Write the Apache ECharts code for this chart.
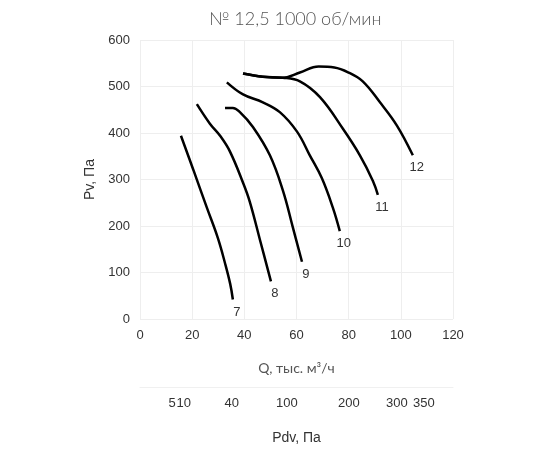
<!DOCTYPE html>
<html><head><meta charset="utf-8">
<script src="https://cdn.jsdelivr.net/npm/echarts@6/dist/echarts.min.js"></script>
<style>html,body{margin:0;padding:0;background:#fff}#c{width:550px;height:450px}</style>
</head><body><div id="c"></div>
<script>
const titleText = '№ 12,5 1000 об/мин';
const xName = 'Q, тыс. м³/ч';
const yName = 'Pv, Па';
const pdvName = 'Pdv, Па';
const curveNames = ['7', '8', '9', '10', '11', '12'];
const curve7 = [[15.7,394],[20.5,320],[25.6,240],[29.8,175],[32.6,120],[34.6,75],[35.6,42]];
const curve8 = [[21.8,462],[26.8,420],[30.7,394],[34.5,360],[39.5,293],[42.1,252],[46,170],[50.2,81]];
const curve9 = [[32.6,454],[35.6,454],[38.3,445],[43.3,413],[49.8,352],[54.8,276],[58.6,197],[62.1,123]];
const curve10 = [[33.3,509],[39.5,483],[47.1,466],[53.6,445],[60.2,403],[65.1,352],[69.7,303],[73.9,240],[76.6,189]];
const curve11 = [[39.5,528],[47.1,521],[54.8,519],[61.3,511],[69,477],[77.8,409],[84.3,352],[89.3,297],[91.2,267]];
const curve12 = [[39.5,528],[47.1,521],[54.8,519],[61.3,530],[68.5,543],[74.5,541],[80,530],[85.4,511],[92,466],[98.5,416],[104.6,352]];
const curves = [curve7, curve8, curve9, curve10, curve11, curve12];
const pdvTicks = [5, 10, 40, 100, 200, 300, 350];
const pdvQ = [12.3, 16.8, 35.2, 56.3, 80.1, 98.5, 108.8];

const chart = echarts.init(document.getElementById('c'), null, {renderer: 'canvas'});
const labelFont = {fontFamily: 'Liberation Sans', fontSize: 13, color: '#333'};
const series = curves.map((pts, i) => ({
  type: 'line', xAxisIndex: 0, yAxisIndex: 0, smooth: 0.4, symbol: 'none',
  lineStyle: {color: '#000', width: 2.5}, silent: true,
  data: pts.map((p, j) => j === pts.length - 1 ? {
    value: p, symbol: 'circle', symbolSize: 0.1,
    label: {show: true, formatter: curveNames[i], position: 'bottom', distance: 0, offset: [4, 6], ...labelFont}
  } : p)
}));
chart.setOption({
  animation: false,
  title: {text: titleText, left: 204, top: 5,
    textStyle: {fontFamily: 'Lato', fontWeight: 300, fontSize: 18, color: '#555'}},
  grid: {left: 140, right: 97, top: 40, bottom: 127},
  xAxis: [{
    type: 'value', min: 0, max: 120, interval: 20,
    name: xName, nameLocation: 'middle', nameGap: 42,
    nameTextStyle: {fontFamily: 'Lato', fontSize: 14, color: '#555'},
    axisLine: {show: false}, axisTick: {show: false},
    axisLabel: {margin: 10, ...labelFont},
    splitLine: {lineStyle: {color: '#eeeeee', width: 1}}
  }, {
    type: 'value', min: 0, max: 120, position: 'bottom', offset: 68,
    name: pdvName, nameLocation: 'middle', nameGap: 44,
    nameTextStyle: {fontFamily: 'Liberation Sans', fontSize: 14, color: '#333'},
    axisLine: {show: true, lineStyle: {color: '#f0f0f0', width: 1}},
    axisTick: {show: false},
    axisLabel: {margin: 10, customValues: pdvQ,
      formatter: v => { const k = pdvQ.indexOf(v); return k >= 0 ? String(pdvTicks[k]) : ''; },
      ...labelFont},
    splitLine: {show: false}
  }],
  yAxis: {
    type: 'value', min: 0, max: 600, interval: 100,
    name: yName, nameLocation: 'middle', nameGap: 34, nameRotate: 90,
    nameTextStyle: {fontFamily: 'Liberation Sans', fontSize: 14, color: '#333'},
    axisLine: {show: false}, axisTick: {show: false},
    axisLabel: {margin: 10, ...labelFont},
    splitLine: {lineStyle: {color: '#eeeeee', width: 1}}
  },
  series
});
</script></body></html>
